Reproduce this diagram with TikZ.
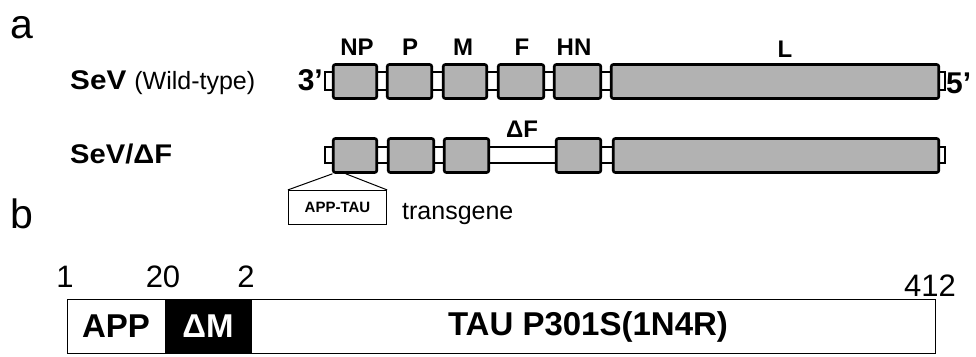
\documentclass[tikz,border=0pt]{standalone}
\usepackage{fontspec}
\setmainfont{Liberation Sans}
\usetikzlibrary{calc}
\definecolor{genegray}{RGB}{178,178,178}
\newcommand{\fs}[1]{\fontsize{#1}{#1}\selectfont}
\begin{document}
\begin{tikzpicture}[x=1pt,y=-1pt,
  gene/.style={draw, line width=2.6pt, fill=genegray, rounded corners=2pt,
    minimum height=34pt, inner sep=0pt, anchor=center},
  strip/.style={draw, line width=1.1pt, fill=white, inner sep=0pt},
  glabel/.style={font=\fs{24}\bfseries, inner sep=0pt, anchor=base},
  panel/.style={font=\fs{41}, inner sep=0pt},
  num/.style={font=\fs{31}, inner sep=0pt, anchor=base},
  barseg/.style={draw, line width=1pt, inner sep=0pt, minimum height=54pt, anchor=center},
  bartext/.style={font=\fs{33}\bfseries},
  thin/.style={line width=1pt}]
\useasboundingbox (0,0) rectangle (976,356);

% panel letters
\node[panel] (la) at (22,28) {a};
\node[panel] (lb) at (22,214) {b};

% row labels
\node[inner sep=0pt, anchor=base west] (wt) at (70,89) {\scalebox{1.1}[1]{\fs{27}\bfseries SeV}\hspace{8pt}\fs{25}\mdseries (Wild-type)};
\node[inner sep=0pt, anchor=base west] (df) at (70,163) {\scalebox{1.08}[1]{\fs{27}\bfseries SeV/ΔF}};

% wild-type genome
\node[strip, minimum width=620pt, minimum height=18pt] (s1) at (635,81) {};
\node[gene, minimum width=43.5pt] (np1) at (355,81.5) {};
\node[gene, minimum width=44.5pt] (p1) at (409.5,81.5) {};
\node[gene, minimum width=43.5pt] (m1) at (465,81.5) {};
\node[gene, minimum width=45.5pt] (f1) at (521,81.5) {};
\node[gene, minimum width=46.5pt] (hn1) at (577.5,81.5) {};
\node[gene, minimum width=327.5pt] (l1) at (775,81.5) {};
\node[glabel] (tnp) at (357,55) {NP};
\node[glabel] (tp) at (410,55) {P};
\node[glabel] (tm) at (463,55) {M};
\node[glabel] (tf) at (522,55) {F};
\node[glabel] (thn) at (574,55) {HN};
\node[glabel] (tl) at (785,57) {L};
\node[inner sep=0pt, anchor=base east, font=\fs{30}\bfseries] (t3) at (323,90) {3’};
\node[inner sep=0pt, anchor=base west, font=\fs{30}\bfseries] (t5) at (946,93) {5’};

% delta F genome
\node[strip, minimum width=620pt, minimum height=16pt] (s2) at (635,155) {};
\node[gene, minimum width=43.5pt] (np2) at (355,155.5) {};
\node[gene, minimum width=45.5pt] (p2) at (411,155.5) {};
\node[gene, minimum width=44.5pt] (m2) at (466.5,155.5) {};
\node[gene, minimum width=44.5pt] (hn2) at (578.5,155.5) {};
\node[gene, minimum width=325.5pt] (l2) at (776,155.5) {};
\node[glabel] (tdf) at (522,137) {ΔF};

% transgene insert
\node[draw, line width=1.2pt, minimum width=98pt, minimum height=34pt, inner sep=0pt,
  font=\fs{15}\bfseries] (ins) at (337.5,207.5) {APP-TAU};
\coordinate (c1) at ($(np2.south west)+(0.5,0)$);
\coordinate (c2) at ($(np2.south west)!0.3!(np2.south east)$);
\draw[thin] (c1) -- (ins.north west);
\draw[thin] (c2) -- (ins.north east);
\node[inner sep=0pt, anchor=base west, font=\fs{25}] (tg) at (402,219) {transgene};

% panel b bar
\node[num] (n1) at (65,287) {1};
\node[num] (n20) at (163,287) {20};
\node[num] (n2) at (246,287) {2};
\node[num] (n412) at (930,296) {412};
\node[barseg, fill=white, minimum width=98pt, bartext] (app) at (116,326) {APP};
\node[barseg, fill=black, minimum width=86pt, bartext, text=white] (dm) at (208,326) {ΔM};
\node[barseg, fill=white, minimum width=684pt] (tau) at (593,326) {};
\node[bartext, inner sep=0pt] (ttau) at (588,327) {TAU P301S(1N4R)};
\end{tikzpicture}
\end{document}
